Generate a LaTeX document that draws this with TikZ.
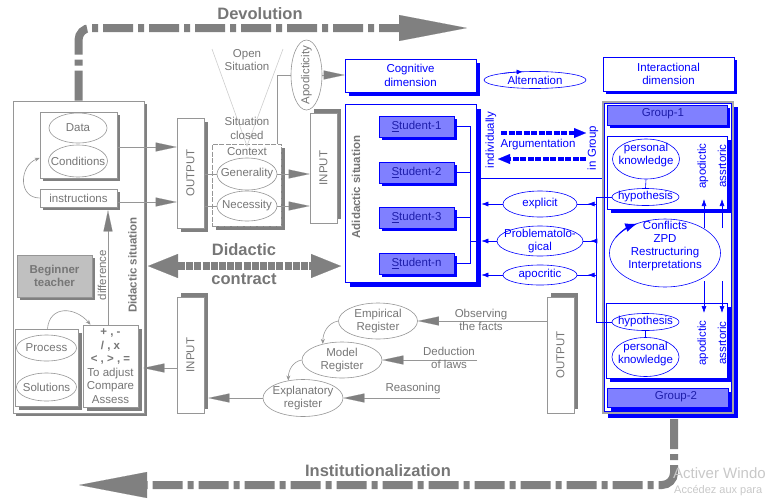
\documentclass[tikz,border=0pt]{standalone}
\usepackage{fontspec}
\setmainfont{Liberation Sans}
\usetikzlibrary{shapes.geometric,arrows.meta,shadows,decorations.markings}
\definecolor{gline}{RGB}{150,150,150}
\definecolor{gtext}{RGB}{118,118,118}
\definecolor{gdark}{RGB}{128,128,128}
\definecolor{glight}{RGB}{205,205,205}
\definecolor{bfill}{RGB}{128,128,255}
\definecolor{btext}{RGB}{30,30,170}
\definecolor{bl}{RGB}{0,0,255}
\definecolor{bgfill}{RGB}{192,192,192}
\definecolor{wmark}{RGB}{200,200,200}
\newcommand{\fsn}{\fontsize{11.5}{13.5}\selectfont}
\newcommand{\fbig}{\fontsize{16.5}{18}\selectfont\bfseries}
\tikzset{
  every node/.style={font=\fsn},
  gb/.style={draw=gline, fill=white, line width=0.6pt, inner sep=0pt, text=gtext},
  gsh/.style 2 args={general shadow={shadow xshift=#1, shadow yshift=#2, fill=gdark}},
  bb/.style={draw=bl, fill=white, line width=0.6pt, inner sep=0pt, text=bl},
  bsh/.style 2 args={general shadow={shadow xshift=#1, shadow yshift=#2, fill=bl}},
  stud/.style={draw=bl, fill=bfill, text=btext, line width=0.6pt, inner sep=0pt},
  gell/.style={ellipse, draw=gline, fill=white, inner sep=0pt, line width=0.6pt},
  bell/.style={ellipse, draw=bl, fill=white, inner sep=0pt, line width=0.6pt},
  gtx/.style={text=gtext, align=center, inner sep=0pt},
  btx/.style={text=bl, align=center, inner sep=0pt},
  gl/.style={draw=gline, line width=0.7pt},
  garr/.style={draw=gline, line width=0.7pt, -{Triangle[length=21pt,width=9pt,fill=gdark,line width=0.1pt]}},
  gcurve/.style={draw=gline, line width=0.6pt, -{Stealth[length=5pt,width=4pt,fill=gdark]}},
  bln/.style={draw=bl, line width=0.6pt},
  barr/.style={draw=bl, line width=0.6pt, -{Latex[length=7pt,width=5pt]}},
  midarr/.style={draw=bl, line width=0.6pt, postaction={decorate},
    decoration={markings, mark=at position 0.45 with {\arrow{Latex[length=7pt,width=5pt]}}}},
  devol/.style={draw=gdark, line width=8pt, rounded corners=12pt, dash pattern=on 30pt off 5pt on 6pt off 5pt,
    -{Triangle[length=68pt,width=26pt,line width=0.1pt]}},
  contr/.style={draw=gdark, line width=8pt, dash pattern=on 7pt off 1.2pt,
    {Triangle[length=30pt,width=24pt,line width=0.1pt]}-{Triangle[length=30pt,width=24pt,line width=0.1pt]}},
  argarr/.style={draw=bl, line width=4pt, dash pattern=on 6pt off 1.5pt,
    -{Triangle[length=12pt,width=10pt,line width=0.1pt]}},
}
\begin{document}
\begin{tikzpicture}[x=1pt,y=-1pt]
\useasboundingbox (0,0) rectangle (768,501);

% ---------------- left region ----------------
\node[gb, gsh={3pt}{-3pt}, minimum width=131pt, minimum height=312pt] (leftbox) at (78.5,257) {};
\node[gb, gsh={3pt}{-3pt}, minimum width=77pt, minimum height=66pt] (dcbox) at (78.5,145) {};
\node[gell, minimum width=58pt, minimum height=30pt] (data) at (78,128) {};
\node[gtx] (tdata) at (data) {Data};
\node[gell, minimum width=59pt, minimum height=32pt] (cond) at (78,161) {};
\node[gtx] (tcond) at (cond) {Conditions};
\node[gb, gsh={3pt}{-3pt}, minimum width=77pt, minimum height=18pt] (instr) at (78.5,198) {instructions};
\node[gb, fill=bgfill, gsh={3pt}{-3pt}, minimum width=75pt, minimum height=42pt, align=center, font=\fsn\bfseries] (beg) at (54.5,276) {Beginner\\teacher};
\node[gb, gsh={4pt}{-4pt}, minimum width=63pt, minimum height=77pt] (psbox) at (46.5,367.5) {};
\node[gell, minimum width=60pt, minimum height=26pt] (proc) at (46.5,348) {};
\node[gtx] (tproc) at (proc) {Process};
\node[gell, minimum width=60pt, minimum height=28pt] (sol) at (46.5,387) {};
\node[gtx] (tsol) at (sol) {Solutions};
\node[gb, gsh={4pt}{-4pt}, minimum width=55pt, minimum height=82pt, align=center] (plus) at (110.5,366)
  {\textbf{+ , -}\\\textbf{/ , x}\\\textbf{< , > , =}\\To adjust\\Compare\\Assess};
\node[gtx, rotate=90, font=\fsn\bfseries] (tdidsit) at (132.5,265) {Didactic situation};
\node[gtx, rotate=90] (tdiff) at (102,275) {difference};

% ---------------- middle gray ----------------
\node[gb, gsh={4pt}{-4pt}, minimum width=27pt, minimum height=110pt] (out1) at (190.5,173) {};
\node[gtx, rotate=90] (tout1) at (out1) {OUTPUT};
\node[draw=gline, fill=white, dash pattern=on 5pt off 1.5pt, line width=0.6pt, inner sep=0pt,
      gsh={4pt}{-4pt}, minimum width=69pt, minimum height=82pt] (ctx) at (246.5,185) {};
\node[gtx] (tctx) at (247,152) {Context};
\node[gell, minimum width=60pt, minimum height=32pt] (gen) at (247,174) {};
\node[gtx] (tgen) at (gen) {Generality};
\node[gell, minimum width=60pt, minimum height=30pt] (nec) at (247,206) {};
\node[gtx] (tnec) at (nec) {Necessity};
\node[gb, gsh={4pt}{4pt}, minimum width=27pt, minimum height=110pt] (in1) at (323.5,168) {};
\node[gtx, rotate=90] (tin1) at (in1) {INPUT};
\node[gb, gsh={4pt}{4pt}, minimum width=27pt, minimum height=116pt] (in2) at (190.5,355) {};
\node[gtx, rotate=90] (tin2) at (in2) {INPUT};
\node[gb, gsh={4pt}{4pt}, minimum width=27pt, minimum height=116pt] (out2) at (560.5,355) {};
\node[gtx, rotate=90] (tout2) at (out2) {OUTPUT};
\node[gell, minimum width=31pt, minimum height=70pt] (apod) at (306.5,75) {};
\node[gtx, rotate=90] (tapod) at (apod) {Apodicticity};

% open / closed situation
\coordinate (os1) at (212,49);
\coordinate (os2) at (283,49);
\coordinate (osb) at (247,146);
\draw[glight, line width=0.6pt] (os1) -- (osb) -- (os2);
\node[gtx] (topen) at (247,60) {Open\\Situation};
\node[gtx] (tclosed) at (247,128.5) {Situation\\closed};

% registers
\node[gell, minimum width=79pt, minimum height=36pt] (emp) at (378,321) {};
\node[gtx] (temp) at (emp) {Empirical\\Register};
\node[gell, minimum width=80pt, minimum height=36pt] (model) at (342,360) {};
\node[gtx] (tmodel) at (model) {Model\\Register};
\node[gell, minimum width=80pt, minimum height=37pt] (expl) at (303,398) {};
\node[gtx] (texpl) at (expl) {Explanatory\\register};

% ---------------- blue region ----------------
\node[bb, bsh={4pt}{-4pt}, minimum width=131pt, minimum height=33pt, align=center] (cog) at (410.5,75.5) {Cognitive\\dimension};
\node[bell, minimum width=102pt, minimum height=17pt] (alt) at (535,80) {};
\node[btx] (talt) at (alt) {Alternation};
\node[bb, bsh={3pt}{-3pt}, minimum width=131pt, minimum height=34pt, align=center] (inter) at (668.5,74) {Interactional\\dimension};

\node[bb, bsh={5pt}{-5pt}, minimum width=131pt, minimum height=178pt] (adid) at (410.5,193) {};
\node[gtx, rotate=90, font=\fsn\bfseries] (tadid) at (356,187) {Adidactic situation};
\node[stud, bsh={3pt}{-3pt}, minimum width=75pt, minimum height=21pt] (s1) at (416.5,126.5) {\underline{S}tudent-1};
\node[stud, bsh={3pt}{-3pt}, minimum width=75pt, minimum height=21pt] (s2) at (416.5,172.5) {\underline{S}tudent-2};
\node[stud, bsh={3pt}{-3pt}, minimum width=75pt, minimum height=21pt] (s3) at (416.5,217.5) {\underline{S}tudent-3};
\node[stud, bsh={3pt}{-3pt}, minimum width=75pt, minimum height=21pt] (sn) at (416.5,263.5) {\underline{S}tudent-n};

\node[bell, minimum width=74pt, minimum height=26pt] (expc) at (540,204) {};
\node[btx] (texpc) at (expc) {explicit};
\node[bell, minimum width=86pt, minimum height=30pt] (prob) at (540,241) {};
\node[btx] (tprob) at (prob) {Problematolo-\\gical};
\node[bell, minimum width=74pt, minimum height=20pt] (apoc) at (540,275) {};
\node[btx] (tapoc) at (apoc) {apocritic};

% group box
\node[draw=black!35, line width=2pt, fill=white, inner sep=0pt, bsh={5pt}{-5pt},
      minimum width=130pt, minimum height=311pt] (gout) at (668,257.5) {};
\draw[bln] ([shift={(2.5pt,-2.5pt)}]gout.north west) rectangle ([shift={(-2.5pt,2.5pt)}]gout.south east);
\node[stud, bsh={3pt}{-3pt}, minimum width=120pt, minimum height=20pt] (g1) at (667,115) {};
\node[text=btext, inner sep=0pt] (tg1) at (663,114) {Group-1};
\node[bb, bsh={4pt}{-4pt}, minimum width=120pt, minimum height=73pt] (inn1) at (667,172.5) {};
\node[bell, minimum width=67pt, minimum height=40pt] (pk1) at (646,159) {};
\node[btx, font=\fontsize{11.5}{13}\selectfont] (tpk1) at (646,155.5) {personal\\knowledge};
\node[bell, minimum width=67pt, minimum height=17pt] (hyp1) at (645.5,197) {};
\node[btx] (thyp1) at (hyp1) {hypothesis};
\node[btx, rotate=90] (tapo1) at (703,166) {apodictic};
\node[btx, rotate=90] (tass1) at (722,166) {assrtoric};

\node[bell, minimum width=111pt, minimum height=68pt] (conf) at (665,253) {};
\node[btx, font=\fontsize{11.5}{13}\selectfont] (tconf) at (665,246.5) {Conflicts\\ZPD\\Restructuring\\Interpretations};

\node[bb, bsh={4pt}{-4pt}, minimum width=121pt, minimum height=75pt] (inn2) at (666.5,340.5) {};
\node[bell, minimum width=67pt, minimum height=17pt] (hyp2) at (645.5,322) {};
\node[btx] (thyp2) at (hyp2) {hypothesis};
\node[bell, minimum width=67pt, minimum height=39pt] (pk2) at (645.5,357) {};
\node[btx, font=\fontsize{11.5}{13}\selectfont] (tpk2) at (645.5,354.5) {personal\\knowledge};
\node[btx, rotate=90] (tapo2) at (703,343) {apodictic};
\node[btx, rotate=90] (tass2) at (722,343) {assrtoric};
\node[stud, bsh={4pt}{-4pt}, minimum width=121pt, minimum height=19pt] (g2) at (667.5,397.5) {};
\node[text=btext, inner sep=0pt] (tg2) at (676,397) {Group-2};

% ---------------- big gray arrows ----------------
\coordinate (devtip) at (467,28);
\draw[devol] (leftbox.north) -- (leftbox.north |- devtip) -- (devtip);
\node[gtx, font=\fbig] (tdevol) at (260,14) {Devolution};

\coordinate (insttip) at (79,485);
\coordinate (instst) at ([xshift=6pt,yshift=-5pt]gout.south);
\draw[devol] (instst) -- (instst |- insttip) -- (insttip);
\node[gtx, font=\fbig] (tinst) at (378,471) {Institutionalization};

\coordinate (dcl) at (148,266);
\coordinate (dcr) at (341,266);
\draw[contr] (dcl) -- (dcr);
\node[gtx, font=\fbig] (tdid) at (244,250) {Didactic};
\node[gtx, font=\fbig] (tcontr) at (244,279) {contract};

% ---------------- gray connectors ----------------
\draw[garr] ([yshift=-2pt]dcbox.east) -- ([yshift=-2pt]dcbox.east -| out1.west);
\draw[garr] ([yshift=-4pt]instr.east) -- ([yshift=-4pt]instr.east -| out1.west);
\draw[gcurve] (instr.west) to[out=180, in=200, looseness=1.4] ([yshift=-13pt]dcbox.west);
\draw[gcurve] ([xshift=1pt]psbox.north) to[out=85, in=130, looseness=1.4] ([xshift=-20pt]plus.north);
\coordinate (instrB) at ([yshift=-3pt]instr.south);
\draw[garr] ([xshift=-2.5pt]plus.north) -- ([xshift=-2.5pt]plus.north |- instrB);
\draw[gl] (gen.west -| out1.east) -- (gen.west);
\draw[gl] (nec.west -| out1.east) -- (nec.west);
\draw[garr] (gen.east) -- (gen.east -| in1.west);
\draw[garr] (nec.east) -- (nec.east -| in1.west);
\draw[gl] ([xshift=-4pt]ctx.north east) |- (apod.west);
\draw[garr] (apod.east) -- (apod.east -| cog.west);
\coordinate (plusR) at ([xshift=5pt,yshift=-2pt]plus.east);
\draw[garr] (plusR -| in2.west) -- (plusR);
\coordinate (in2R) at ([xshift=4pt]in2.east);
\draw[garr] (expl.west) -- (expl.west -| in2R);
\draw[garr] (emp.east -| out2.west) -- (emp.east);
\coordinate (dedR) at (477,360);
\draw[garr] (dedR) -- (model.east);
\coordinate (reaR) at (440,398);
\draw[garr] (reaR) -- (expl.east);
\draw[gcurve] (emp.west) to[out=190, in=90] (model.140);
\draw[gcurve] (model.west) to[out=190, in=90] (expl.130);
\node[gtx] (tobs) at (481,320) {Observing\\the facts};
\node[gtx] (tded) at (449,358) {Deduction\\of laws};
\node[gtx] (trea) at (413,389) {Reasoning};

% ---------------- blue connectors ----------------
\coordinate (sbus) at (470,0);
\coordinate (adR) at ([xshift=5pt]adid.east);
\coordinate (rbus) at (596,0);
\draw[bln] (s1.east) -- (s1.east -| sbus) -- (sn.east -| sbus) -- (sn.east);
\draw[bln] (s2.east) -- (s2.east -| sbus);
\draw[bln] (s3.east) -- (s3.east -| sbus);
\draw[bln] (prob.west -| sbus) -- (prob.west -| adR);
\draw[barr] (expc.west) -- (expc.west -| adR);
\draw[barr] (prob.west) -- (prob.west -| adR);
\draw[barr] (apoc.west) -- (apoc.west -| adR);
\draw[bln] (hyp1.west) -- (hyp1.west -| rbus) -- (hyp2.west -| rbus) -- (hyp2.west);
\draw[midarr] (expc.east -| rbus) -- (expc.east);
\draw[midarr] (prob.east -| rbus) -- (prob.east);
\draw[midarr] (apoc.east -| rbus) -- (apoc.east);
\draw[bln] (adR |- 0,178) -- (gout.west |- 0,178);
\draw[bln] (pk1.south) -- (hyp1.north);
\draw[bln] (hyp2.south) -- (pk2.north);

\coordinate (a1s) at (501,133);
\coordinate (a1e) at (586,133);
\coordinate (a2s) at (586,159);
\coordinate (a2e) at (498,159);
\draw[argarr] (a1s) -- (a1e);
\draw[argarr] (a2s) -- (a2e);
\node[btx] (targ) at (538,145) {Argumentation};
\node[btx, rotate=90] (tindiv) at (491,140) {individually};
\node[btx, rotate=90] (tingr) at (593,148) {in Group};

\coordinate (u1s) at (704,228); \coordinate (u1e) at (704,199);
\coordinate (u2s) at (722,228); \coordinate (u2e) at (722,199);
\coordinate (d1s) at (704,281); \coordinate (d1e) at (704,313);
\coordinate (d2s) at (722,281); \coordinate (d2e) at (722,313);
\draw[barr] (u1s) -- (u1e);
\draw[barr] (u2s) -- (u2e);
\draw[barr] (d1s) -- (d1e);
\draw[barr] (d2s) -- (d2e);

\draw[draw=bl, line width=1pt, -{Latex[length=12pt,width=9pt]}]
  ([shift={(152:55.5pt and 34pt)}]conf.center) arc[start angle=152, end angle=120, x radius=55.5pt, y radius=34pt];
\draw[draw=bl, line width=0.6pt, -{Latex[length=6pt,width=5pt]}]
  ([shift={(128:51pt and 8.5pt)}]alt.center) arc[start angle=128, end angle=104, x radius=51pt, y radius=8.5pt];

% watermark (as far as the reference shows it)
\node[anchor=west, text=wmark, font=\fontsize{15}{15}\selectfont, inner sep=0pt] (wm1) at (673,473) {Activer Windo};
\node[anchor=west, text=wmark, font=\fontsize{11}{11}\selectfont, inner sep=0pt] (wm2) at (674,491) {Accédez aux para};
\end{tikzpicture}
\end{document}
